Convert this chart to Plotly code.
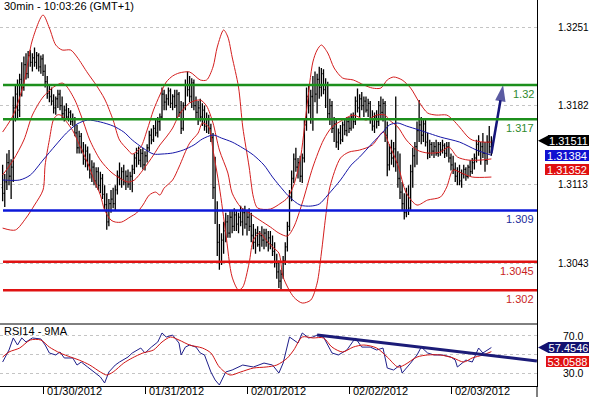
import plotly.graph_objects as go

# ---------------- data ----------------
bar_index = list(range(-19, 212))   # 30-min bars, 0 = 01/30/2012 00:00

opens = [
1.3110,1.3105,1.3115,1.3132,1.3120,1.3128,1.3180,1.3192,1.3178,1.3205,
1.3198,1.3218,1.3210,1.3226,1.3220,1.3224,1.3220,1.3226,1.3216,1.3223,
1.3212,1.3203,1.3193,1.3190,1.3186,1.3180,1.3188,1.3192,1.3182,1.3175,
1.3178,1.3172,1.3176,1.3168,1.3170,1.3158,1.3145,1.3155,1.3143,1.3135,
1.3142,1.3130,1.3122,1.3128,1.3116,1.3124,1.3112,1.3118,1.3104,1.3095,
1.3080,1.3096,1.3100,1.3096,1.3108,1.3120,1.3118,1.3124,1.3115,1.3120,
1.3113,1.3120,1.3126,1.3136,1.3140,1.3134,1.3140,1.3130,1.3138,1.3145,
1.3156,1.3152,1.3162,1.3158,1.3168,1.3172,1.3192,1.3185,1.3188,1.3195,
1.3184,1.3190,1.3182,1.3192,1.3176,1.3162,1.3182,1.3200,1.3196,1.3190,
1.3202,1.3182,1.3176,1.3180,1.3172,1.3178,1.3164,1.3170,1.3162,1.3154,
1.3110,1.3090,1.3062,1.3045,1.3064,1.3072,1.3080,1.3070,1.3084,1.3076,
1.3086,1.3078,1.3084,1.3080,1.3088,1.3078,1.3084,1.3076,1.3068,1.3062,
1.3070,1.3060,1.3068,1.3064,1.3070,1.3062,1.3066,1.3060,1.3054,1.3044,
1.3036,1.3028,1.3034,1.3046,1.3058,1.3076,1.3102,1.3118,1.3135,1.3128,
1.3132,1.3120,1.3136,1.3165,1.3190,1.3182,1.3190,1.3200,1.3192,1.3205,
1.3198,1.3210,1.3196,1.3200,1.3175,1.3182,1.3162,1.3166,1.3150,1.3158,
1.3152,1.3165,1.3160,1.3168,1.3162,1.3172,1.3168,1.3186,1.3180,1.3188,
1.3182,1.3186,1.3178,1.3184,1.3170,1.3164,1.3172,1.3168,1.3182,1.3176,
1.3184,1.3156,1.3130,1.3140,1.3136,1.3144,1.3132,1.3118,1.3106,1.3096,
1.3088,1.3104,1.3092,1.3124,1.3138,1.3146,1.3160,1.3165,1.3156,1.3166,
1.3150,1.3140,1.3148,1.3142,1.3146,1.3140,1.3148,1.3143,1.3147,1.3140,
1.3146,1.3136,1.3130,1.3126,1.3120,1.3124,1.3116,1.3122,1.3126,1.3120,
1.3128,1.3124,1.3132,1.3136,1.3148,1.3142,1.3146,1.3140,1.3134,1.3150,1.3146]

highs = [
1.3130,1.3122,1.3140,1.3143,1.3135,1.3190,1.3200,1.3205,1.3210,1.3220,
1.3225,1.3228,1.3230,1.3231,1.3228,1.3233,1.3229,1.3228,1.3226,1.3227,
1.3218,1.3208,1.3200,1.3198,1.3192,1.3190,1.3196,1.3196,1.3190,1.3182,
1.3184,1.3180,1.3178,1.3175,1.3172,1.3165,1.3160,1.3158,1.3150,1.3148,
1.3146,1.3140,1.3134,1.3132,1.3128,1.3128,1.3124,1.3122,1.3112,1.3105,
1.3100,1.3108,1.3110,1.3112,1.3125,1.3132,1.3128,1.3130,1.3125,1.3126,
1.3124,1.3130,1.3140,1.3145,1.3146,1.3144,1.3145,1.3142,1.3148,1.3160,
1.3162,1.3165,1.3170,1.3172,1.3175,1.3198,1.3196,1.3192,1.3198,1.3197,
1.3192,1.3196,1.3196,1.3194,1.3186,1.3185,1.3205,1.3212,1.3208,1.3206,
1.3205,1.3190,1.3186,1.3188,1.3184,1.3182,1.3176,1.3174,1.3166,1.3158,
1.3137,1.3098,1.3078,1.3070,1.3080,1.3088,1.3086,1.3090,1.3090,1.3092,
1.3090,1.3088,1.3094,1.3092,1.3094,1.3090,1.3092,1.3088,1.3078,1.3074,
1.3076,1.3072,1.3076,1.3074,1.3074,1.3072,1.3072,1.3068,1.3062,1.3052,
1.3046,1.3038,1.3050,1.3062,1.3080,1.3108,1.3125,1.3140,1.3145,1.3136,
1.3138,1.3140,1.3170,1.3198,1.3200,1.3196,1.3208,1.3212,1.3210,1.3216,
1.3215,1.3214,1.3206,1.3203,1.3188,1.3186,1.3172,1.3170,1.3162,1.3165,
1.3168,1.3170,1.3172,1.3172,1.3175,1.3176,1.3190,1.3197,1.3192,1.3194,
1.3190,1.3190,1.3188,1.3186,1.3178,1.3176,1.3178,1.3186,1.3190,1.3188,
1.3186,1.3168,1.3148,1.3152,1.3150,1.3190,1.3142,1.3140,1.3115,1.3105,
1.3110,1.3112,1.3130,1.3145,1.3150,1.3168,1.3187,1.3172,1.3170,1.3170,
1.3158,1.3152,1.3150,1.3150,1.3152,1.3150,1.3150,1.3152,1.3149,1.3150,
1.3150,1.3140,1.3138,1.3132,1.3128,1.3130,1.3126,1.3130,1.3128,1.3130,
1.3134,1.3136,1.3140,1.3152,1.3156,1.3150,1.3158,1.3150,1.3156,1.3164,1.3155]

lows = [
1.3098,1.3093,1.3108,1.3112,1.3100,1.3115,1.3168,1.3170,1.3172,1.3190,
1.3195,1.3205,1.3206,1.3216,1.3212,1.3216,1.3214,1.3212,1.3210,1.3208,
1.3198,1.3188,1.3185,1.3182,1.3175,1.3174,1.3180,1.3178,1.3170,1.3168,
1.3170,1.3168,1.3165,1.3164,1.3155,1.3140,1.3140,1.3140,1.3130,1.3128,
1.3125,1.3118,1.3115,1.3112,1.3110,1.3108,1.3105,1.3100,1.3090,1.3073,
1.3076,1.3088,1.3092,1.3090,1.3104,1.3112,1.3110,1.3112,1.3108,1.3110,
1.3108,1.3106,1.3122,1.3128,1.3130,1.3128,1.3126,1.3125,1.3132,1.3142,
1.3148,1.3150,1.3155,1.3154,1.3160,1.3170,1.3178,1.3178,1.3182,1.3180,
1.3178,1.3180,1.3170,1.3172,1.3157,1.3160,1.3178,1.3190,1.3185,1.3180,
1.3178,1.3170,1.3165,1.3168,1.3164,1.3160,1.3158,1.3157,1.3150,1.3100,
1.3078,1.3050,1.3038,1.3042,1.3052,1.3062,1.3066,1.3066,1.3070,1.3072,
1.3072,1.3070,1.3076,1.3068,1.3074,1.3068,1.3072,1.3062,1.3056,1.3052,
1.3058,1.3054,1.3058,1.3056,1.3058,1.3054,1.3056,1.3050,1.3040,1.3030,
1.3022,1.3020,1.3030,1.3042,1.3054,1.3072,1.3098,1.3114,1.3124,1.3118,
1.3115,1.3114,1.3132,1.3160,1.3175,1.3166,1.3160,1.3185,1.3175,1.3188,
1.3190,1.3192,1.3180,1.3170,1.3165,1.3158,1.3150,1.3145,1.3143,1.3148,
1.3150,1.3156,1.3155,1.3158,1.3160,1.3162,1.3165,1.3176,1.3172,1.3178,
1.3172,1.3176,1.3172,1.3166,1.3160,1.3158,1.3162,1.3164,1.3170,1.3168,
1.3150,1.3120,1.3125,1.3130,1.3128,1.3124,1.3110,1.3100,1.3090,1.3082,
1.3084,1.3086,1.3090,1.3110,1.3128,1.3130,1.3150,1.3148,1.3150,1.3146,
1.3135,1.3136,1.3138,1.3136,1.3138,1.3137,1.3138,1.3140,1.3136,1.3137,
1.3132,1.3125,1.3122,1.3115,1.3112,1.3112,1.3110,1.3118,1.3116,1.3118,
1.3120,1.3122,1.3126,1.3132,1.3138,1.3130,1.3136,1.3124,1.3130,1.3140,1.3138]

closes = [
1.3105,1.3115,1.3132,1.3120,1.3128,1.3180,1.3192,1.3178,1.3205,1.3198,
1.3218,1.3210,1.3226,1.3220,1.3224,1.3220,1.3226,1.3216,1.3223,1.3212,
1.3203,1.3193,1.3190,1.3186,1.3180,1.3188,1.3192,1.3182,1.3175,1.3178,
1.3172,1.3176,1.3168,1.3170,1.3158,1.3145,1.3155,1.3143,1.3135,1.3142,
1.3130,1.3122,1.3128,1.3116,1.3124,1.3112,1.3118,1.3104,1.3095,1.3080,
1.3096,1.3100,1.3096,1.3108,1.3120,1.3118,1.3124,1.3115,1.3120,1.3113,
1.3120,1.3126,1.3136,1.3140,1.3134,1.3140,1.3130,1.3138,1.3145,1.3156,
1.3152,1.3162,1.3158,1.3168,1.3172,1.3192,1.3185,1.3188,1.3195,1.3184,
1.3190,1.3182,1.3192,1.3176,1.3162,1.3182,1.3200,1.3196,1.3190,1.3202,
1.3182,1.3176,1.3180,1.3172,1.3178,1.3164,1.3170,1.3162,1.3154,1.3110,
1.3090,1.3062,1.3045,1.3064,1.3072,1.3080,1.3070,1.3084,1.3076,1.3086,
1.3078,1.3084,1.3080,1.3088,1.3078,1.3084,1.3076,1.3068,1.3062,1.3070,
1.3060,1.3068,1.3064,1.3070,1.3062,1.3066,1.3060,1.3054,1.3044,1.3036,
1.3028,1.3034,1.3046,1.3058,1.3076,1.3102,1.3118,1.3135,1.3128,1.3132,
1.3120,1.3136,1.3165,1.3190,1.3182,1.3190,1.3200,1.3192,1.3205,1.3198,
1.3210,1.3196,1.3200,1.3175,1.3182,1.3162,1.3166,1.3150,1.3158,1.3152,
1.3165,1.3160,1.3168,1.3162,1.3172,1.3168,1.3186,1.3180,1.3188,1.3182,
1.3186,1.3178,1.3184,1.3170,1.3164,1.3172,1.3168,1.3182,1.3176,1.3184,
1.3156,1.3130,1.3140,1.3136,1.3144,1.3132,1.3118,1.3106,1.3096,1.3088,
1.3104,1.3092,1.3124,1.3138,1.3146,1.3160,1.3165,1.3156,1.3166,1.3150,
1.3140,1.3148,1.3142,1.3146,1.3140,1.3148,1.3143,1.3147,1.3140,1.3146,
1.3136,1.3130,1.3126,1.3120,1.3124,1.3116,1.3122,1.3126,1.3120,1.3128,
1.3124,1.3132,1.3136,1.3148,1.3142,1.3146,1.3140,1.3134,1.3150,1.3146,1.31511]

# Bollinger band lines (upper / middle / lower), sampled along the bars
upper_idx = [-19,-14,-9,-5,0,3,6,9,13,16,21,25,29,33,36,40,42,46,49,52,55,58,61,64,69,74,77,80,82,85,
             87,89,92,94,97,99,101,107,112,115,118,121,124,127,129,131,134,137,141,146,151,155,159,162,165,
             169,173,177,181,185,190,193,196,200,202,207,211]
upper_val = [1.31588,1.31737,1.32018,1.32396,1.32615,1.32501,1.32352,1.32308,1.32308,1.32247,1.32106,1.32001,
             1.31878,1.31693,1.31518,1.31430,1.31395,1.31456,1.31606,1.31781,1.31913,1.32027,1.32080,1.32106,
             1.32115,1.32045,1.32045,1.32159,1.32334,1.32484,1.32422,1.32247,1.31983,1.31632,1.31281,1.31017,
             1.30921,1.30912,1.30965,1.31009,1.31123,1.31342,1.31781,1.32203,1.32308,1.32352,1.32282,1.32150,
             1.32062,1.32045,1.32001,1.31974,1.31974,1.32045,1.32071,1.32045,1.31974,1.31851,1.31755,1.31737,
             1.31737,1.31693,1.31632,1.31544,1.31518,1.31500,1.31500]

mid_idx = [-19,-14,-9,-5,0,5,9,11,15,19,22,27,32,36,40,43,47,52,55,58,61,64,69,74,77,80,83,87,89,93,
           97,102,107,111,115,118,122,127,132,136,141,146,152,157,161,163,167,171,176,181,187,191,195,200,206,211]
mid_val = [1.31211,1.31342,1.31518,1.31737,1.31895,1.31983,1.32018,1.31992,1.31869,1.31676,1.31518,1.31342,
           1.31237,1.31184,1.31149,1.31167,1.31254,1.31386,1.31474,1.31544,1.31623,1.31737,1.31843,1.31869,
           1.31816,1.31667,1.31430,1.31228,1.31052,1.30929,1.30877,1.30815,1.30754,1.30701,1.30675,1.30754,
           1.30965,1.31281,1.31518,1.31632,1.31693,1.31737,1.31693,1.31737,1.31737,1.31693,1.31632,1.31518,
           1.31430,1.31404,1.31412,1.31456,1.31369,1.31342,1.31342,1.31352]

lower_idx = [-19,-13,-8,-4,0,1,3,5,7,9,11,14,17,21,24,27,29,32,34,37,41,44,47,50,53,55,57,61,64,69,
             73,75,78,80,83,86,89,92,94,97,99,102,105,108,111,113,118,122,126,129,131,133,135,140,144,
             149,155,160,163,167,171,176,181,187,190,193,197,202,211]
lower_val = [1.30745,1.30728,1.30833,1.30947,1.31079,1.31298,1.31520,1.31700,1.31740,1.31730,1.31680,1.31600,
             1.31480,1.31316,1.31167,1.31035,1.30903,1.30815,1.30798,1.30798,1.30842,1.30877,1.30947,1.31035,
             1.31061,1.31035,1.31096,1.31167,1.31281,1.31491,1.31579,1.31667,1.31632,1.31430,1.31105,1.30701,
             1.30315,1.30201,1.30227,1.30438,1.30640,1.30701,1.30640,1.30578,1.30526,1.30315,1.30139,1.30087,
             1.30113,1.30262,1.30526,1.30842,1.31105,1.31360,1.31412,1.31430,1.31474,1.31588,1.31474,1.31298,
             1.31052,1.30947,1.30991,1.31017,1.31105,1.31254,1.31228,1.31193,1.31193]

# long moving average (blue)
sma_idx = [-19,-11,-6,0,6,11,16,21,27,33,38,42,47,52,56,61,66,71,75,80,84,89,94,99,104,108,113,116,121,126,
           130,134,140,145,149,155,160,163,167,171,177,187,196,204,211]
sma_val = [1.31167,1.31167,1.31210,1.31342,1.31474,1.31579,1.31658,1.31693,1.31676,1.31641,1.31588,1.31518,
           1.31448,1.31395,1.31395,1.31404,1.31430,1.31474,1.31527,1.31562,1.31535,1.31500,1.31448,1.31386,
           1.31298,1.31193,1.31079,1.31017,1.30947,1.30938,1.30956,1.31035,1.31167,1.31298,1.31369,1.31491,
           1.31588,1.31650,1.31667,1.31641,1.31606,1.31544,1.31500,1.31430,1.31384]

# RSI14 and its 9-period MA
rsi_idx = [-19,-16,-14,-12,-10,-8,-5,-1,1,3,6,8,10,14,16,18,21,24,27,29,31,34,36,40,42,46,48,51,54,56,
           58,61,64,65,67,69,72,74,76,79,81,83,86,89,94,99,104,108,111,113,116,120,122,125,127,129,132,136,
           139,143,147,150,154,157,160,162,165,168,169,173,176,178,181,184,188,192,194,195,199,202,205,207,209,211]
rsi_val = [42.0,54.8,67.6,60.1,67.6,63.3,67.6,66.5,60.1,51.6,49.5,52.7,46.3,46.3,38.8,42.0,36.7,31.4,26.1,19.7,
           31.4,38.8,42.0,47.3,51.6,56.9,51.6,57.9,63.3,72.9,68.6,70.7,62.2,49.5,57.9,60.1,57.9,51.6,49.5,31.4,
           22.9,17.6,31.4,33.5,38.8,36.7,40.9,38.8,30.3,40.9,68.6,62.2,72.9,67.6,68.6,70.7,68.6,51.6,49.5,54.8,
           67.6,57.9,57.9,54.8,56.9,35.6,33.5,38.8,30.3,40.9,49.5,57.9,51.6,49.5,49.5,47.3,44.1,36.7,44.1,42.0,
           56.9,51.6,54.8,57.4546]
rsi_ma_idx = [-19,-16,-11,-6,-1,3,8,13,17,22,27,30,33,38,42,47,52,56,60,64,69,75,79,83,88,93,99,105,110,115,
              118,122,127,132,136,141,146,151,157,162,167,170,176,181,187,193,198,202,207,211]
rsi_ma_val = [47.3,52.7,56.9,65.4,65.4,57.9,51.6,47.3,44.1,38.8,31.4,28.2,31.4,40.9,46.3,51.6,54.8,63.3,68.6,65.4,
              60.1,56.9,51.6,36.7,28.2,31.4,35.6,36.7,38.8,46.3,54.8,68.6,67.6,67.6,57.9,52.7,57.9,60.1,56.9,47.3,
              36.7,38.8,47.3,49.5,49.5,46.3,42.0,46.3,49.5,53.0588]

# drawn objects
rsi_trend_idx = [129, 232.4]
rsi_trend_val = [70.7, 43.1]
arrow_idx = [211, 216.5]
arrow_val = [1.3140, 1.3200]

levels = [1.32, 1.317, 1.309, 1.3045, 1.302]
price_ticks = [1.3043, 1.3113, 1.3182, 1.3251]
rsi_labels = [30.0, 70.0]
rsi_grid = [30, 50, 70]
date_ticks = [0, 48, 96, 144, 192]
date_labels = ["01/30/2012", "01/31/2012", "02/01/2012", "02/02/2012", "02/03/2012"]

for name, arr in [("opens", opens), ("highs", highs), ("lows", lows), ("closes", closes)]:
    if len(arr) != len(bar_index):
        raise ValueError(f"{name} has {len(arr)} values, expected {len(bar_index)}")

# ---------------- layout constants ----------------
W, H = 589, 397
ML, MR, MT, MB = 0, 52, 0, 11
PW, PH = W - ML - MR, H - MT - MB
SPLIT = 62 / PH

def px_x(px):
    return px / PW

def px_y(py):
    return (PH - py) / PH

FONT = "Liberation Sans, Arial, sans-serif"
BAND = "#d41e1e"
SMA = "#1616a8"
level_colors = ["#1c8f1c", "#1c8f1c", "#0c18d8", "#e01212", "#e01212"]
level_text_colors = ["#2e8a2e", "#2e8a2e", "#1c2a9a", "#c81e1e", "#c81e1e"]

fig = go.Figure()

for idx, val, col in [(upper_idx, upper_val, BAND), (mid_idx, mid_val, BAND),
                      (lower_idx, lower_val, BAND), (sma_idx, sma_val, SMA)]:
    fig.add_trace(go.Scatter(x=idx, y=val, mode="lines",
                             line=dict(color=col, width=1, shape="spline", smoothing=0.8),
                             hoverinfo="skip", showlegend=False))

fig.add_trace(go.Ohlc(x=bar_index, open=opens, high=highs, low=lows, close=closes,
                      increasing=dict(line=dict(color="black", width=1.3)),
                      decreasing=dict(line=dict(color="black", width=1.3)),
                      tickwidth=0.45, hoverinfo="skip", showlegend=False))

fig.add_trace(go.Scatter(x=arrow_idx, y=arrow_val, mode="lines+markers",
                         line=dict(color="#15157a", width=2.5),
                         marker=dict(symbol=["circle", "arrow"], size=[0, 17], angleref="previous",
                                     color="#15157a", line=dict(width=0)),
                         hoverinfo="skip", showlegend=False))

fig.add_trace(go.Scatter(x=rsi_idx, y=rsi_val, yaxis="y2", mode="lines",
                         line=dict(color="#1f1f8a", width=1), hoverinfo="skip", showlegend=False))
fig.add_trace(go.Scatter(x=rsi_ma_idx, y=rsi_ma_val, yaxis="y2", mode="lines",
                         line=dict(color="#d01515", width=1, shape="spline", smoothing=0.8),
                         hoverinfo="skip", showlegend=False))
fig.add_trace(go.Scatter(x=rsi_trend_idx, y=rsi_trend_val, yaxis="y2", mode="lines",
                         line=dict(color="#1c1c78", width=3), hoverinfo="skip", showlegend=False))

shapes = []
for lvl, col in zip(levels, level_colors):
    shapes.append(dict(type="line", xref="x domain", x0=px_x(3), x1=1, yref="y", y0=lvl, y1=lvl,
                       line=dict(color=col, width=2.5)))
shapes.append(dict(type="line", xref="paper", x0=0, x1=1, yref="paper", y0=SPLIT, y1=SPLIT,
                   line=dict(color="black", width=1)))
shapes.append(dict(type="line", xref="paper", x0=1, x1=1, yref="paper", y0=-MB / PH, y1=0,
                   line=dict(color="black", width=1)))

annotations = []
annotations.append(dict(text="30min - 10:03:26 (GMT+1)", xref="paper", yref="paper", x=px_x(2), y=px_y(6),
                        xanchor="left", yanchor="middle", showarrow=False, font=dict(size=11, color="black")))
annotations.append(dict(text="RSI14 - 9MA", xref="paper", yref="paper", x=px_x(2), y=px_y(331),
                        xanchor="left", yanchor="middle", showarrow=False, font=dict(size=11, color="black")))
for lvl, col in zip(levels, level_text_colors):
    annotations.append(dict(text=f"{lvl:g}", xref="paper", yref="y", x=px_x(536), y=lvl,
                            xanchor="right", yanchor="top", yshift=-1, showarrow=False,
                            font=dict(size=11, color=col)))
for t in price_ticks:
    annotations.append(dict(text=f"{t:.4f}", xref="paper", yref="y", x=px_x(556), y=t,
                            xanchor="left", yanchor="middle", showarrow=False, font=dict(size=10, color="black")))
for t in rsi_labels:
    annotations.append(dict(text=f"{t:.1f}", xref="paper", yref="y2", x=px_x(561), y=t,
                            xanchor="left", yanchor="middle", showarrow=False, font=dict(size=10.5, color="black")))
for t, lab in zip(date_ticks, date_labels):
    annotations.append(dict(text=lab, xref="x", yref="paper", x=t, y=px_y(390.5), xshift=2,
                            xanchor="left", yanchor="middle", showarrow=False, font=dict(size=11, color="black")))

# value boxes on the right axis
boxes = [
    (closes[-1], "y", f"{closes[-1]:.5f}", "black", 548, 41, 0, True),
    (sma_val[-1], "y", f"{sma_val[-1]:.5f}", "#1010d0", 545, 44, 0, False),
    (mid_val[-1], "y", f"{mid_val[-1]:.5f}", "#e01010", 545, 44, -10.5, False),
    (rsi_val[-1], "y2", f"{rsi_val[-1]:.4f}", "#121270", 548, 41, 0, True),
    (rsi_ma_val[-1], "y2", f"{rsi_ma_val[-1]:.4f}", "#e01010", 546, 43, -10, False),
]
for val, yr, txt, col, left, wid, shift, pointer in boxes:
    annotations.append(dict(text=txt, xref="paper", yref=yr, x=px_x(left), y=val, yshift=shift,
                            xanchor="left", yanchor="middle", showarrow=False, width=wid, height=11,
                            bgcolor=col, borderwidth=0, borderpad=0, align="center",
                            font=dict(size=11, color="white")))
    if pointer:
        shapes.append(dict(type="path", xref="paper", xsizemode="pixel", xanchor=1,
                           yref=yr, ysizemode="pixel", yanchor=val,
                           path="M 1 0 L 11.5 5.5 L 11.5 -5.5 Z",
                           fillcolor=col, line=dict(width=0)))

fig.update_layout(
    width=W, height=H, margin=dict(l=ML, r=MR, t=MT, b=MB, pad=0),
    paper_bgcolor="white", plot_bgcolor="white",
    font=dict(family=FONT, size=11, color="black"),
    showlegend=False, hovermode=False,
    xaxis=dict(range=[-20.24, 232.47], anchor="y2", showgrid=False, zeroline=False,
               showline=True, linecolor="black", linewidth=1,
               tickvals=date_ticks, ticktext=["" for _ in date_ticks],
               ticks="outside", ticklen=7, tickcolor="black", tickwidth=1,
               rangeslider=dict(visible=False), fixedrange=True),
    yaxis=dict(domain=[SPLIT, 1], range=[1.29903, 1.32747], side="right",
               showline=True, linecolor="black", linewidth=1, zeroline=False,
               tickvals=price_ticks, showticklabels=False, ticks="",
               showgrid=True, gridcolor="#c4c4c4", griddash="dot", gridwidth=1),
    yaxis2=dict(domain=[0, SPLIT], range=[16.5, 82.45], side="right", anchor="x",
                showline=True, linecolor="black", linewidth=1, zeroline=False,
                tickvals=rsi_grid, showticklabels=False, ticks="",
                showgrid=True, gridcolor="#c4c4c4", griddash="dot", gridwidth=1),
    shapes=shapes, annotations=annotations,
)

# remove the page's default body margin so the 589x397 figure fills the window exactly
fig.write_html("out.html", config={"displayModeBar": False},
               post_script="document.body.style.margin='0';document.body.style.overflow='hidden';")
